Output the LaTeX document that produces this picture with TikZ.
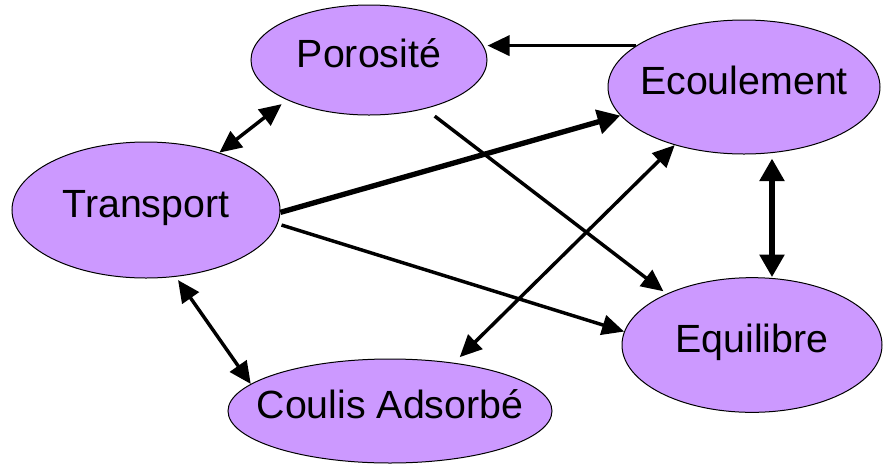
\documentclass[tikz,border=0pt]{standalone}
\usepackage{fontspec}
\setmainfont{Liberation Sans}
\usetikzlibrary{shapes.geometric,arrows.meta}
\definecolor{lila}{RGB}{204,153,255}

\tikzset{every picture/.style={line width=0.75pt}}
\tikzset{
	fl/.tip={Triangle[length=16.5pt,width=15pt]},
	gfl/.tip={Triangle[length=17pt,width=18pt]},
	etat/.style={ellipse, draw, fill=lila, inner xsep=-20pt, inner ysep=0pt,
		font=\fontsize{29.5}{30}\selectfont, text height=20.7pt, text depth=8.9pt},
	fleche/.style={line width=2.6pt, -fl},
	bifl/.style={line width=2.6pt, fl-fl},
	gfleche/.style={line width=4pt, -gfl},
	gbifl/.style={line width=4.4pt, gfl-gfl}}

\begin{document}
\begin{tikzpicture}[x=0.75pt,y=0.75pt,yscale=-1,xscale=1]
	\useasboundingbox (0,0) rectangle (883,465);

	%Shape: Ellipse [id:poro]
	\node[etat, minimum width=177pt, minimum height=82.5pt] (poro) at (369,60) {Porosité};
	%Shape: Ellipse [id:transp]
	\node[etat, minimum width=201pt, minimum height=102pt] (transp) at (146,210) {Transport};
	%Shape: Ellipse [id:ecoul]
	\node[etat, minimum width=204pt, minimum height=100.5pt] (ecoul) at (744,87) {Ecoulement};
	%Shape: Ellipse [id:equil]
	\node[etat, minimum width=195pt, minimum height=101pt] (equil) at (752,345) {Equilibre};
	%Shape: Ellipse [id:coulis]
	\node[etat, minimum width=243pt, minimum height=78pt] (coulis) at (390,411) {Coulis Adsorbé};

	%Straight Lines [id:ecoul-poro]
	\draw[fleche] (ecoul.159) -- (ecoul.159 -| poro.east);
	%Straight Lines [id:transp-poro]
	\draw[bifl, shorten >=5pt] (transp.38) -- (poro.206);
	%Straight Lines [id:transp-ecoul]
	\draw[gfleche] (transp.-1.5) -- (ecoul.193.8);
	%Straight Lines [id:poro-equil]
	\draw[fleche, shorten <=9pt, shorten >=3pt] (poro.-41.7) -- (equil.149.5);
	%Straight Lines [id:coulis-ecoul]
	\draw[bifl, shorten <=6pt] (coulis.37) -- (ecoul.220.4);
	%Straight Lines [id:transp-equil]
	\draw[fleche, shorten <=3pt] (transp.-6.2) -- (equil.174.7);
	%Straight Lines [id:transp-coulis]
	\draw[bifl, shorten <=3pt] (transp.-66) -- (coulis.169.3);
	%Straight Lines [id:ecoul-equil]
	\draw[gbifl, shorten <=3pt] ([xshift=21pt]ecoul.south) -- ([xshift=21pt]ecoul.south |- equil.north);

\end{tikzpicture}
\end{document}
